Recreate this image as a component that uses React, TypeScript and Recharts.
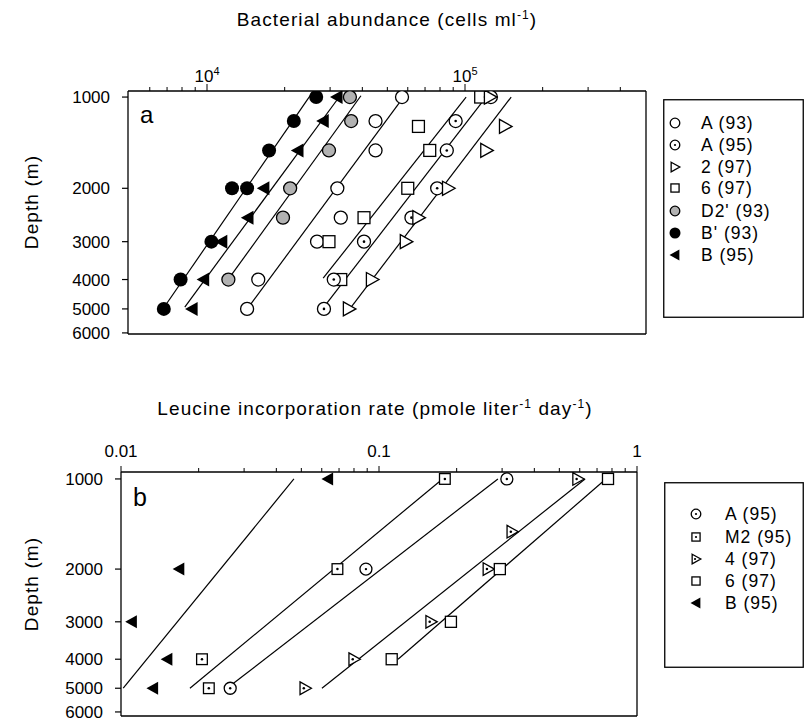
import React from "react";
import { ScatterChart, Scatter, XAxis, YAxis, Legend } from "recharts";

const FONT = "'Liberation Sans', Arial, Helvetica, sans-serif";

// ---------- panel a: bacterial abundance (cells/ml) vs depth (m) ----------
const depthA93 = [1000, 1200, 1500, 2000, 2500, 3000, 4000, 5000];
const abundA93 = [57000, 45000, 45000, 32000, 33000, 26700, 15800, 14300];
const depthA95 = [1000, 1200, 1500, 2000, 2500, 3000, 4000, 5000];
const abundA95 = [126000, 92000, 85000, 78000, 62000, 40600, 31000, 28400];
const depth2_97 = [1000, 1250, 1500, 2000, 2500, 3000, 4000, 5000];
const abund2_97 = [125000, 143000, 121000, 86000, 66000, 59000, 43600, 35500];
const depth6_97 = [1000, 1250, 1500, 2000, 2500, 3000, 4000];
const abund6_97 = [115000, 66000, 73000, 60000, 40600, 29700, 33000];
const depthD2 = [1000, 1200, 1500, 2000, 2500, 4000];
const abundD2 = [35800, 36200, 29700, 21000, 19700, 12100];
const depthBp93 = [1000, 1200, 1500, 2000, 2000, 3000, 4000, 5000];
const abundBp93 = [26500, 21700, 17400, 12500, 14300, 10400, 7900, 6800];
const depthB95 = [1000, 1200, 1500, 2000, 2500, 3000, 4000, 5000];
const abundB95 = [31900, 28200, 22500, 16600, 14400, 11400, 9700, 8750];

// regression lines (end points)
const fitBp93X = [7000, 25500];
const fitBp93Y = [4780, 970];
const fitB95X = [8200, 32800];
const fitB95Y = [4930, 990];
const fitD2X = [12100, 39500];
const fitD2Y = [3990, 990];
const fitA93X = [14700, 59600];
const fitA93Y = [4850, 965];
const fit6_97X = [28200, 101000];
const fit6_97Y = [3960, 1000];
const fitA95X = [29200, 120600];
const fitA95Y = [4780, 1000];
const fit2_97X = [36200, 151000];
const fit2_97Y = [4930, 1000];

const abundTicks = [6000, 7000, 8000, 9000, 10000, 20000, 30000, 40000, 50000, 60000, 70000, 80000, 90000, 100000, 200000, 300000, 400000];
const depthTicks = [1000, 2000, 3000, 4000, 5000, 6000];
const legendA = ["A (93)", "A (95)", "2 (97)", "6 (97)", "D2' (93)", "B' (93)", "B (95)"];

// ---------- panel b: leucine incorporation (pmol/l/day) vs depth ----------
const depthLA95 = [1000, 2000, 5000];
const leuA95 = [0.313, 0.089, 0.0265];
const depthM2 = [1000, 2000, 4000, 5000];
const leuM2 = [0.18, 0.069, 0.0206, 0.0219];
const depthL4_97 = [1000, 1500, 2000, 3000, 4000, 5000];
const leu4_97 = [0.59, 0.328, 0.265, 0.159, 0.08, 0.0517];
const depthL6_97 = [1000, 2000, 3000, 4000];
const leu6_97 = [0.772, 0.294, 0.19, 0.112];
const depthLB95 = [1000, 2000, 3000, 4000, 5000];
const leuB95 = [0.0634, 0.0168, 0.011, 0.0151, 0.0133];

const fitL1X = [0.0102, 0.0468];
const fitL1Y = [5000, 1000];
const fitL2X = [0.0185, 0.174];
const fitL2Y = [5000, 1010];
const fitL3X = [0.0269, 0.289];
const fitL3Y = [4860, 1000];
const fitL4X = [0.0601, 0.629];
const fitL4Y = [5000, 1000];
const fitL5X = [0.1185, 0.738];
const fitL5Y = [4000, 1020];

const leuTicks = [0.01, 0.02, 0.03, 0.04, 0.05, 0.06, 0.07, 0.08, 0.09, 0.1, 0.2, 0.3, 0.4, 0.5, 0.6, 0.7, 0.8, 0.9, 1];
const leuLabels: Record<number, string> = { 0.01: "0.01", 0.1: "0.1", 1: "1" };
const legendB = ["A (95)", "M2 (95)", "4 (97)", "6 (97)", "B (95)"];

const pts = (xs: number[], ys: number[]) => xs.map((x, i) => ({ x, y: ys[i] }));

type Kind = "open" | "dot" | "tri" | "triDot" | "square" | "squareDot" | "gray" | "filled" | "left";

const Mark = ({ kind, cx, cy, s }: { kind: Kind; cx: number; cy: number; s: number }) => {
  const sw = 1.3;
  const dot = (dx = 0) => <circle cx={cx + dx} cy={cy} r={Math.max(1.1, s * 0.2)} fill="#000" />;
  const tri = `${cx - s * 0.8},${cy - s} ${cx + s},${cy} ${cx - s * 0.8},${cy + s}`;
  const left = `${cx + s * 0.8},${cy - s} ${cx - s},${cy} ${cx + s * 0.8},${cy + s}`;
  const h = s * 0.85;
  switch (kind) {
    case "open":
      return <circle cx={cx} cy={cy} r={s} fill="#fff" stroke="#000" strokeWidth={sw} />;
    case "dot":
      return (
        <g>
          <circle cx={cx} cy={cy} r={s} fill="#fff" stroke="#000" strokeWidth={sw} />
          {dot()}
        </g>
      );
    case "gray":
      return <circle cx={cx} cy={cy} r={s} fill="#b2b2b2" stroke="#000" strokeWidth={sw} />;
    case "filled":
      return <circle cx={cx} cy={cy} r={s} fill="#000" />;
    case "tri":
      return <polygon points={tri} fill="#fff" stroke="#000" strokeWidth={sw} />;
    case "triDot":
      return (
        <g>
          <polygon points={tri} fill="#fff" stroke="#000" strokeWidth={sw} />
          {dot(-s * 0.2)}
        </g>
      );
    case "left":
      return <polygon points={left} fill="#000" />;
    case "square":
      return <rect x={cx - h} y={cy - h} width={2 * h} height={2 * h} fill="#fff" stroke="#000" strokeWidth={sw} />;
    case "squareDot":
      return (
        <g>
          <rect x={cx - h} y={cy - h} width={2 * h} height={2 * h} fill="#fff" stroke="#000" strokeWidth={sw} />
          {dot()}
        </g>
      );
  }
  return null;
};

const AbundTick = ({ x, y, payload }: any) => {
  const v = payload.value;
  const major = v === 10000 || v === 100000;
  return (
    <g>
      <line x1={x} x2={x} y1={y} y2={y - (major ? 7 : 4)} stroke="#000" strokeWidth={1} />
      {major && (
        <text x={x} y={y - 9} textAnchor="middle" fontSize={17} fontFamily={FONT} fill="#000">
          10<tspan dy={-7} fontSize={11}>{v === 10000 ? "4" : "5"}</tspan>
        </text>
      )}
    </g>
  );
};

const LeuTick = ({ x, y, payload }: any) => {
  const label = leuLabels[payload.value];
  return (
    <g>
      <line x1={x} x2={x} y1={y} y2={y - (label ? 6 : 4)} stroke="#000" strokeWidth={1} />
      {label && (
        <text x={x} y={y - 15} textAnchor="middle" fontSize={17} fontFamily={FONT} fill="#000">
          {label}
        </text>
      )}
    </g>
  );
};

const DepthTick = ({ x, y, payload }: any) => (
  <g>
    <line x1={x} x2={x - 6} y1={y} y2={y} stroke="#000" strokeWidth={1.2} />
    <text x={x - 18} y={y + 6} textAnchor="end" fontSize={17} fontFamily={FONT} fill="#000">
      {payload.value}
    </text>
  </g>
);

const LegendBox = ({ w, h, sx, tx, rows, labels, kinds }: any) => (
  <svg width={w} height={h} style={{ display: "block" }}>
    <rect x={0.75} y={0.75} width={w - 1.5} height={h - 1.5} fill="#fff" stroke="#000" strokeWidth={1.3} />
    {labels.map((l: string, i: number) => (
      <g key={l + i}>
        <Mark kind={kinds[i]} cx={sx} cy={rows[i]} s={kinds[i] === "filled" || kinds[i] === "left" ? 5.5 : 4.8} />
        <text x={tx} y={rows[i] + 6} fontSize={17.5} letterSpacing={1} fontFamily={FONT} fill="#000">
          {l}
        </text>
      </g>
    ))}
  </svg>
);

const axisStroke = { stroke: "#000", strokeWidth: 1.3 };
const lineStyle = { stroke: "#000", strokeWidth: 1.2 };
const noMark = () => <g />;

const kindsA: Kind[] = ["open", "dot", "tri", "square", "gray", "filled", "left"];
const kindsB: Kind[] = ["dot", "squareDot", "triDot", "square", "left"];

const TopPanel = () => {
  const fits = [
    pts(fitBp93X, fitBp93Y),
    pts(fitB95X, fitB95Y),
    pts(fitD2X, fitD2Y),
    pts(fitA93X, fitA93Y),
    pts(fit6_97X, fit6_97Y),
    pts(fitA95X, fitA95Y),
    pts(fit2_97X, fit2_97Y),
  ];
  const series = [
    { kind: "open", data: pts(abundA93, depthA93), s: 6.5 },
    { kind: "square", data: pts(abund6_97, depth6_97), s: 7 },
    { kind: "dot", data: pts(abundA95, depthA95), s: 6.5 },
    { kind: "tri", data: pts(abund2_97, depth2_97), s: 7 },
    { kind: "gray", data: pts(abundD2, depthD2), s: 6.5 },
    { kind: "filled", data: pts(abundBp93, depthBp93), s: 7 },
    { kind: "left", data: pts(abundB95, depthB95), s: 7 },
  ];
  return (
    <ScatterChart width={805} height={345} margin={{ top: 0, right: 0, bottom: 0, left: 0 }}>
      <XAxis
        dataKey="x"
        type="number"
        scale="log"
        orientation="top"
        domain={[4940, 503000]}
        allowDataOverflow
        ticks={abundTicks}
        interval={0}
        height={91}
        tickSize={0}
        tickMargin={0}
        tickLine={false}
        axisLine={axisStroke}
        tick={<AbundTick />}
      />
      <XAxis xAxisId="b" orientation="bottom" type="number" domain={[0, 1]} height={11} tick={false} tickLine={false} axisLine={axisStroke} />
      <YAxis
        dataKey="y"
        type="number"
        scale="log"
        domain={[955, 6050]}
        allowDataOverflow
        reversed
        ticks={depthTicks}
        interval={0}
        width={128}
        tickSize={0}
        tickMargin={0}
        tickLine={false}
        axisLine={axisStroke}
        tick={<DepthTick />}
      />
      <YAxis yAxisId="r" orientation="right" type="number" domain={[0, 1]} width={159} tick={false} tickLine={false} axisLine={axisStroke} />
      {fits.map((d, i) => (
        <Scatter key={"fa" + i} data={d} line={lineStyle} shape={noMark} legendType="none" isAnimationActive={false} />
      ))}
      {series.map((sr, i) => (
        <Scatter
          key={"sa" + i}
          data={sr.data}
          legendType="none"
          isAnimationActive={false}
          shape={(p: any) => <Mark kind={sr.kind as Kind} cx={p.cx} cy={p.cy} s={sr.s} />}
        />
      ))}
      <Legend
        layout="horizontal"
        verticalAlign="middle"
        align="center"
        wrapperStyle={{ position: "absolute", left: 663, top: 99, width: 141, height: 219 }}
        content={() => (
          <LegendBox w={141} h={219} sx={12} tx={38} rows={[24, 46, 68, 89, 112, 134, 156]} labels={legendA} kinds={kindsA} />
        )}
      />
      <text x={387} y={26} textAnchor="middle" fontSize={19} letterSpacing={1.1} fontFamily={FONT} fill="#000">
        Bacterial abundance (cells ml<tspan dy={-7} fontSize={12}>-1</tspan>
        <tspan dy={7}>)</tspan>
      </text>
      <text transform="translate(38,202) rotate(-90)" textAnchor="middle" fontSize={19} letterSpacing={1.1} fontFamily={FONT} fill="#000">
        Depth (m)
      </text>
      <text x={140} y={123} fontSize={24} fontFamily={FONT} fill="#000">
        a
      </text>
    </ScatterChart>
  );
};

const BottomPanel = () => {
  const fits = [
    pts(fitL1X, fitL1Y),
    pts(fitL2X, fitL2Y),
    pts(fitL3X, fitL3Y),
    pts(fitL4X, fitL4Y),
    pts(fitL5X, fitL5Y),
  ];
  const series = [
    { kind: "dot", data: pts(leuA95, depthLA95), s: 6 },
    { kind: "squareDot", data: pts(leuM2, depthM2), s: 6.3 },
    { kind: "triDot", data: pts(leu4_97, depthL4_97), s: 6.3 },
    { kind: "square", data: pts(leu6_97, depthL6_97), s: 6.5 },
    { kind: "left", data: pts(leuB95, depthLB95), s: 6.5 },
  ];
  return (
    <ScatterChart width={805} height={379} margin={{ top: 0, right: 0, bottom: 0, left: 0 }}>
      <XAxis
        dataKey="x"
        type="number"
        scale="log"
        orientation="top"
        domain={[0.01, 1]}
        allowDataOverflow
        ticks={leuTicks}
        interval={0}
        height={127}
        tickSize={0}
        tickMargin={0}
        tickLine={false}
        axisLine={axisStroke}
        tick={<LeuTick />}
      />
      <XAxis xAxisId="b" orientation="bottom" type="number" domain={[0, 1]} height={8} tick={false} tickLine={false} axisLine={axisStroke} />
      <YAxis
        dataKey="y"
        type="number"
        scale="log"
        domain={[948, 6190]}
        allowDataOverflow
        reversed
        ticks={depthTicks}
        interval={0}
        width={121}
        tickSize={0}
        tickMargin={0}
        tickLine={false}
        axisLine={axisStroke}
        tick={<DepthTick />}
      />
      <YAxis yAxisId="r" orientation="right" type="number" domain={[0, 1]} width={168} tick={false} tickLine={false} axisLine={axisStroke} />
      {fits.map((d, i) => (
        <Scatter key={"fb" + i} data={d} line={lineStyle} shape={noMark} legendType="none" isAnimationActive={false} />
      ))}
      {series.map((sr, i) => (
        <Scatter
          key={"sb" + i}
          data={sr.data}
          legendType="none"
          isAnimationActive={false}
          shape={(p: any) => <Mark kind={sr.kind as Kind} cx={p.cx} cy={p.cy} s={sr.s} />}
        />
      ))}
      <Legend
        layout="horizontal"
        verticalAlign="middle"
        align="center"
        wrapperStyle={{ position: "absolute", left: 664, top: 137, width: 140, height: 186 }}
        content={() => (
          <LegendBox w={140} h={186} sx={32} tx={61} rows={[32, 55, 77, 99, 121]} labels={legendB} kinds={kindsB} />
        )}
      />
      <text x={375} y={70} textAnchor="middle" fontSize={19} letterSpacing={1.1} fontFamily={FONT} fill="#000">
        Leucine incorporation rate (pmole liter<tspan dy={-7} fontSize={12}>-1</tspan>
        <tspan dy={7}> day</tspan>
        <tspan dy={-7} fontSize={12}>-1</tspan>
        <tspan dy={7}>)</tspan>
      </text>
      <text transform="translate(38,239) rotate(-90)" textAnchor="middle" fontSize={19} letterSpacing={1.1} fontFamily={FONT} fill="#000">
        Depth (m)
      </text>
      <text x={133} y={161} fontSize={25} fontFamily={FONT} fill="#000">
        b
      </text>
    </ScatterChart>
  );
};

export default function App() {
  return (
    <div style={{ position: "absolute", left: 0, top: 0, width: 805, height: 724, background: "#fff", fontFamily: FONT }}>
      <div style={{ position: "absolute", left: 0, top: 0 }}>
        <TopPanel />
      </div>
      <div style={{ position: "absolute", left: 0, top: 345 }}>
        <BottomPanel />
      </div>
    </div>
  );
}
